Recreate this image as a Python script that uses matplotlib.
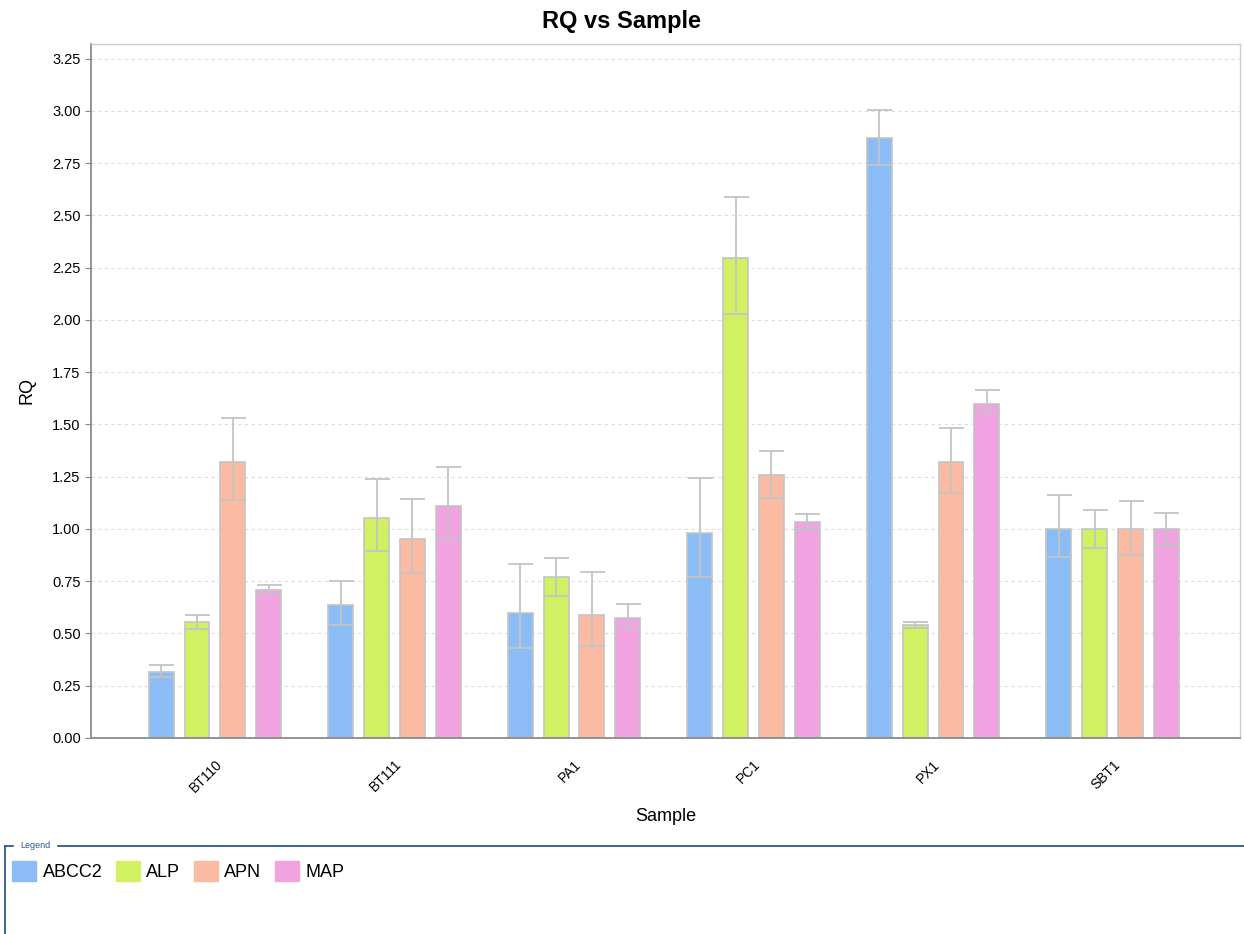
import numpy as np
import matplotlib.pyplot as plt
from matplotlib.lines import Line2D
from matplotlib.patches import Patch

plt.rcParams['font.family'] = ['Liberation Sans', 'DejaVu Sans']

samples = ["BT110", "BT111", "PA1", "PC1", "PX1", "SBT1"]
genes = ["ABCC2", "ALP", "APN", "MAP"]
colors = ["#8bbcf5", "#d1f062", "#fbbba2", "#f0a3e0"]

# RQ values per gene (one entry per sample)
rq = {
    "ABCC2": [0.315, 0.635, 0.60, 0.98, 2.87, 1.00],
    "ALP":   [0.555, 1.05, 0.77, 2.295, 0.54, 1.00],
    "APN":   [1.32, 0.95, 0.59, 1.26, 1.32, 1.00],
    "MAP":   [0.71, 1.11, 0.575, 1.035, 1.60, 1.00],
}
# error bar limits (min / max)
rq_min = {
    "ABCC2": [0.29, 0.54, 0.43, 0.77, 2.74, 0.865],
    "ALP":   [0.52, 0.895, 0.68, 2.03, 0.525, 0.91],
    "APN":   [1.14, 0.79, 0.44, 1.15, 1.17, 0.875],
    "MAP":   [0.69, 0.95, 0.52, 1.00, 1.56, 0.925],
}
rq_max = {
    "ABCC2": [0.35, 0.75, 0.83, 1.245, 3.005, 1.16],
    "ALP":   [0.59, 1.24, 0.86, 2.59, 0.555, 1.09],
    "APN":   [1.53, 1.145, 0.795, 1.375, 1.485, 1.135],
    "MAP":   [0.73, 1.295, 0.64, 1.07, 1.665, 1.075],
}

fig = plt.figure(figsize=(12.44, 9.34), dpi=100)
ax = fig.add_axes([0.0732, 0.2099, 0.9236, 0.743])

x = np.arange(len(samples))
width = 0.139
pitch = 0.2
for i, g in enumerate(genes):
    xs = x + (i - 1.5) * pitch
    vals = np.array(rq[g])
    lo = vals - np.array(rq_min[g])
    hi = np.array(rq_max[g]) - vals
    ax.bar(xs, vals, width, color=colors[i], edgecolor="#c4c4c4", linewidth=1.2, zorder=2)
    ax.errorbar(xs, vals, yerr=[lo, hi], fmt="none", ecolor="#c4c4c4",
                elinewidth=1.3, capsize=9, capthick=1.3, zorder=3)

ax.set_xlim(-0.69, 5.71)
ax.set_ylim(0, 3.32)
ax.set_yticks(np.arange(0, 3.26, 0.25))
ax.set_yticklabels([f"{v:.2f}" for v in np.arange(0, 3.26, 0.25)], fontsize=10.5)
ax.set_xticks(x)
ax.set_xticklabels(samples, rotation=45, fontsize=10, ha="right", rotation_mode="anchor")
ax.tick_params(axis="x", length=0, pad=14)
ax.tick_params(axis="y", length=4, color="#888888")
ax.yaxis.grid(True, linestyle=(0, (3, 3)), color="#dddddd", linewidth=0.8, zorder=0)
ax.set_axisbelow(True)
for s in ["left", "bottom"]:
    ax.spines[s].set_color("#8a8a8a")
    ax.spines[s].set_linewidth(1.3)
for s in ["top", "right"]:
    ax.spines[s].set_color("#cccccc")
    ax.spines[s].set_linewidth(1.0)

ax.set_ylabel("RQ", fontsize=13, labelpad=12)
ax.set_xlabel("Sample", fontsize=13, labelpad=9)
fig.text(0.5, 0.977, "RQ vs Sample", ha="center", va="center", fontsize=17, fontweight="bold")

# legend frame
frame_col = "#2e5a8a"
y_top = 1 - 846 / 934
fig.add_artist(Line2D([5 / 1244, 1], [y_top, y_top], color=frame_col, linewidth=1.3))
fig.add_artist(Line2D([5 / 1244, 5 / 1244], [0, y_top], color=frame_col, linewidth=1.3))
fig.text(20 / 1244, y_top + 0.001, "Legend", fontsize=6.5, color=frame_col, va="center",
         ha="left", backgroundcolor="white")

handles = [Patch(facecolor=c, edgecolor=c) for c in colors]
fig.legend(handles, genes, loc="upper left", bbox_to_anchor=(5 / 1244, 1 - 854 / 934),
           ncol=4, frameon=False, fontsize=13, handlelength=1.33, handleheight=1.33,
           handletextpad=0.35, columnspacing=0.75, borderaxespad=0)

fig.savefig("out.png", dpi=100)
